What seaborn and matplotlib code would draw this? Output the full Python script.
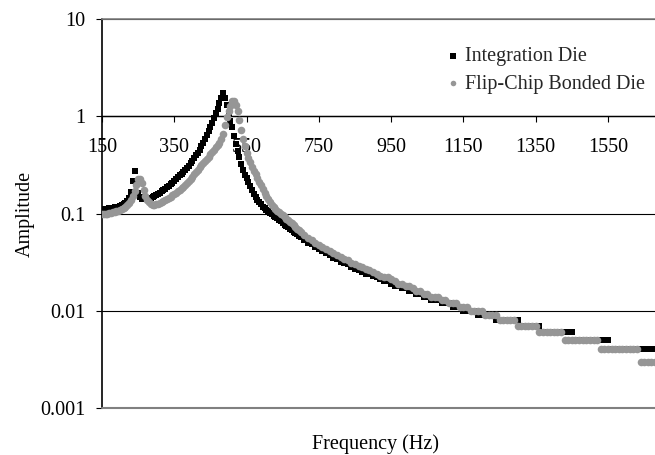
import numpy as np
import pandas as pd
import matplotlib
matplotlib.use("Agg")
import matplotlib.pyplot as plt
import seaborn as sns
from matplotlib.ticker import NullLocator

# frequency grid: 5 Hz steps up to 700 Hz, 10 Hz steps after
freq_low = np.arange(150, 701, 5)
freq_high = np.arange(710, 1691, 10)
freq = np.concatenate([freq_low, freq_high])

# amplitudes
integration_die = [
    0.111, 0.111, 0.112, 0.112, 0.113, 0.114, 0.115, 0.116, 0.117, 0.118,
    0.120, 0.122, 0.125, 0.129, 0.135, 0.145, 0.165, 0.215, 0.275, 0.200,
    0.162, 0.148, 0.142, 0.140, 0.140, 0.141, 0.143, 0.145, 0.148, 0.151,
    0.155, 0.159, 0.164, 0.169, 0.174, 0.180, 0.186, 0.193, 0.200, 0.208,
    0.216, 0.225, 0.235, 0.246, 0.257, 0.268, 0.280, 0.293, 0.310, 0.330,
    0.350, 0.372, 0.396, 0.421, 0.447, 0.490, 0.530, 0.580, 0.640, 0.700,
    0.780, 0.860, 0.960, 1.070, 1.200, 1.380, 1.550, 1.720, 1.550, 1.300,
    1.070, 0.900, 0.780, 0.620, 0.520, 0.440, 0.380, 0.320, 0.280, 0.250,
    0.230, 0.210, 0.190, 0.175, 0.160, 0.147, 0.137, 0.130, 0.124, 0.118,
    0.113, 0.109, 0.105, 0.102, 0.099, 0.095, 0.092, 0.089, 0.086, 0.083,
    0.080, 0.077, 0.075, 0.072, 0.070, 0.067, 0.065, 0.063, 0.061, 0.059, 0.057,
    # 710 Hz onwards
    0.053, 0.050, 0.048, 0.045, 0.043, 0.041, 0.039, 0.037, 0.035, 0.034,
    0.032, 0.031, 0.030, 0.028, 0.027, 0.026, 0.025, 0.024, 0.024, 0.023,
    0.022, 0.021, 0.020, 0.020, 0.019, 0.018, 0.018, 0.017, 0.017, 0.016,
    0.016, 0.015, 0.015, 0.014, 0.014, 0.013, 0.013, 0.013, 0.012, 0.012,
    0.012, 0.011, 0.011, 0.011, 0.010, 0.010, 0.010, 0.010, 0.009, 0.009,
    0.009, 0.009, 0.009, 0.008, 0.008, 0.008, 0.008, 0.008, 0.008, 0.008,
    0.007, 0.007, 0.007, 0.007, 0.007, 0.007, 0.006, 0.006, 0.006, 0.006,
    0.006, 0.006, 0.006, 0.006, 0.006, 0.005, 0.005, 0.005, 0.005, 0.005,
    0.005, 0.005, 0.005, 0.005, 0.005, 0.004, 0.004, 0.004, 0.004, 0.004,
    0.004, 0.004, 0.004, 0.004, 0.004, 0.004, 0.004, 0.004, 0.004,
]

flip_chip_die = [
    0.098, 0.099, 0.099, 0.100, 0.101, 0.102, 0.103, 0.104, 0.105, 0.107,
    0.108, 0.110, 0.113, 0.117, 0.122, 0.128, 0.138, 0.152, 0.172, 0.198,
    0.225, 0.228, 0.205, 0.175, 0.152, 0.138, 0.130, 0.125, 0.123, 0.123,
    0.124, 0.126, 0.128, 0.131, 0.134, 0.137, 0.141, 0.145, 0.149, 0.154,
    0.159, 0.164, 0.170, 0.176, 0.182, 0.189, 0.197, 0.206, 0.216, 0.227,
    0.239, 0.252, 0.266, 0.282, 0.298, 0.313, 0.328, 0.345, 0.363, 0.383,
    0.405, 0.428, 0.452, 0.478, 0.505, 0.535, 0.580, 0.660, 0.810, 0.980,
    1.130, 1.280, 1.420, 1.450, 1.300, 1.120, 0.920, 0.720, 0.580, 0.490,
    0.420, 0.370, 0.335, 0.300, 0.275, 0.253, 0.232, 0.213, 0.195, 0.178,
    0.163, 0.150, 0.140, 0.131, 0.123, 0.116, 0.110, 0.106, 0.103, 0.100,
    0.096, 0.092, 0.088, 0.085, 0.082, 0.079, 0.076, 0.073, 0.070, 0.067, 0.064,
    # 710 Hz onwards
    0.060, 0.056, 0.053, 0.050, 0.047, 0.045, 0.043, 0.041, 0.039, 0.037,
    0.036, 0.034, 0.033, 0.031, 0.030, 0.029, 0.028, 0.027, 0.026, 0.025,
    0.024, 0.023, 0.022, 0.022, 0.021, 0.020, 0.019, 0.019, 0.018, 0.018,
    0.017, 0.016, 0.016, 0.015, 0.015, 0.014, 0.014, 0.014, 0.013, 0.013,
    0.012, 0.012, 0.012, 0.011, 0.011, 0.011, 0.010, 0.010, 0.010, 0.010,
    0.009, 0.009, 0.009, 0.009, 0.008, 0.008, 0.008, 0.008, 0.008, 0.007,
    0.007, 0.007, 0.007, 0.007, 0.007, 0.006, 0.006, 0.006, 0.006, 0.006,
    0.006, 0.006, 0.005, 0.005, 0.005, 0.005, 0.005, 0.005, 0.005, 0.005,
    0.005, 0.005, 0.004, 0.004, 0.004, 0.004, 0.004, 0.004, 0.004, 0.004,
    0.004, 0.004, 0.004, 0.003, 0.003, 0.003, 0.003, 0.003, 0.003,
]

x_ticks = [150, 350, 550, 750, 950, 1150, 1350, 1550]
y_ticks = [0.001, 0.01, 0.1, 1, 10]
y_tick_labels = ["0.001", "0.01", "0.1", "1", "10"]

sns.set_theme(style="white")
plt.rcParams["font.family"] = ["Liberation Serif", "DejaVu Serif"]
fs = 14.5

fig = plt.figure(figsize=(6.55, 4.55), dpi=100)
ax = fig.add_axes([102 / 655, 47 / 455, 553 / 655, 389 / 455])

df_int = pd.DataFrame({"freq": freq, "amp": integration_die})
df_flip = pd.DataFrame({"freq": freq, "amp": flip_chip_die})

sns.scatterplot(data=df_int, x="freq", y="amp", marker="s", s=22, color="black",
                linewidth=0, label="Integration Die", ax=ax, zorder=3)
sns.scatterplot(data=df_flip, x="freq", y="amp", marker="o", s=30, color="#969696",
                linewidth=0, label="Flip-Chip Bonded Die", ax=ax, zorder=4)

ax.set_yscale("log")
ax.set_xlim(150, 1680)
ax.set_ylim(0.001, 10)
ax.set_yticks(y_ticks)
ax.set_yticklabels(y_tick_labels)
ax.yaxis.set_minor_locator(NullLocator())
ax.set_xticks(x_ticks)

# x axis crosses at amplitude 1
ax.spines["bottom"].set_position(("data", 1))
ax.spines["bottom"].set_color("black")
ax.spines["bottom"].set_linewidth(1)
ax.spines["left"].set_color("black")
ax.spines["left"].set_linewidth(1.2)
ax.spines["top"].set_color("#808080")
ax.spines["top"].set_linewidth(1.2)
ax.spines["right"].set_visible(False)
ax.axhline(0.001, color="#808080", linewidth=1.5, zorder=5, clip_on=False)

ax.yaxis.grid(True, color="black", linewidth=0.8)
ax.xaxis.grid(False)
ax.set_axisbelow(True)

ax.tick_params(axis="x", bottom=True, direction="out", length=4.3, width=0.8,
               color="black", pad=11, labelsize=fs, labelcolor="black")
ax.tick_params(axis="y", left=True, direction="out", length=4.3, width=0.8,
               color="black", pad=7.5, labelsize=fs, labelcolor="black")

ax.set_xlabel("Frequency (Hz)", fontsize=fs, color="black")
ax.xaxis.set_label_coords(0.494, -0.068)
ax.set_ylabel("Amplitude", fontsize=fs, color="black")
ax.yaxis.set_label_coords(-0.122, 0.5)

leg = ax.legend(loc="upper left", bbox_to_anchor=(448 / 655, 1 - 47 / 455),
                bbox_transform=fig.transFigure, frameon=False, fontsize=fs,
                handlelength=0.5, handletextpad=0.35, labelspacing=0.42,
                borderpad=0, borderaxespad=0)
for h in leg.legend_handles:
    h.set_sizes([16])

fig.savefig("out.png", dpi=100)
